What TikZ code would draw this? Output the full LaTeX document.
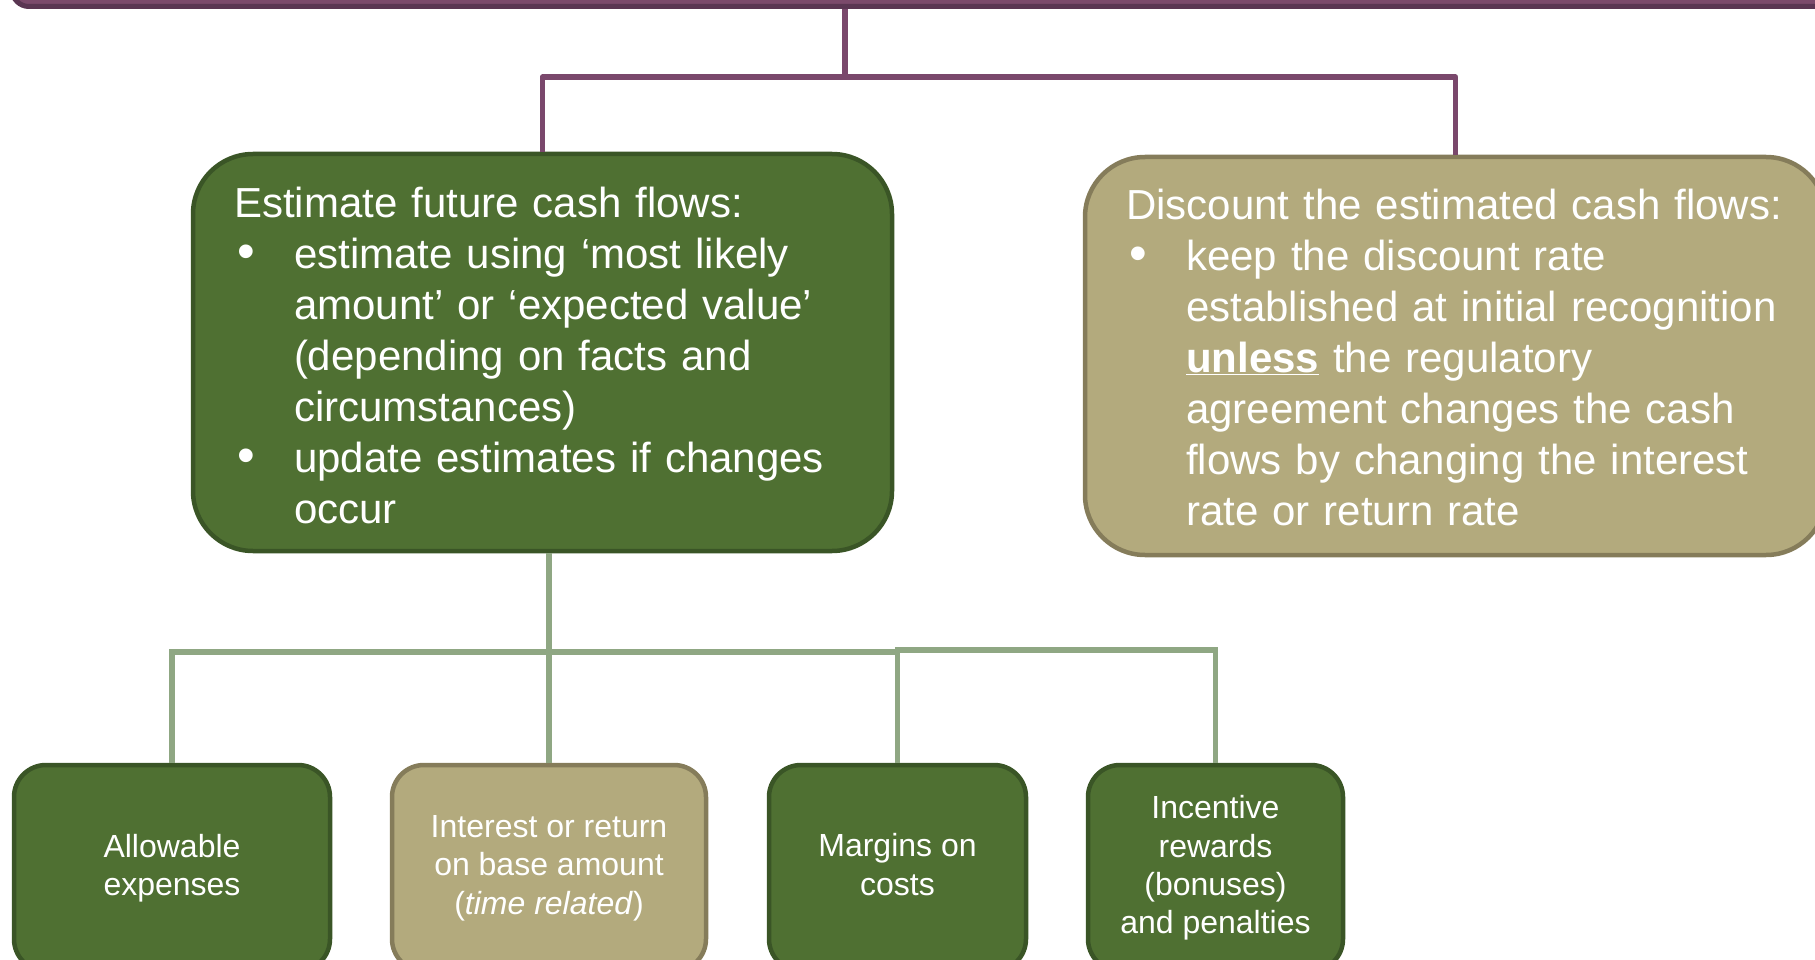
\documentclass[tikz,border=0pt]{standalone}
\usepackage{fontspec}
\setmainfont{Liberation Sans}
\definecolor{gfill}{HTML}{4F7032}
\definecolor{gdraw}{HTML}{3A5526}
\definecolor{tfill}{HTML}{B3AA7D}
\definecolor{tdraw}{HTML}{857C5A}
\definecolor{pfill}{HTML}{7B4A6B}
\definecolor{pdraw}{HTML}{5A3652}
\definecolor{pline}{HTML}{7A486C}
\definecolor{lgline}{HTML}{8FA783}
\tikzset{
  bigtext/.style={font=\fontsize{42}{51}\selectfont, text=white, align=left, inner xsep=41, inner ysep=0},
  smalltext/.style={font=\fontsize{32}{38.3}\selectfont, text=white, align=center, inner sep=0},
  greenbox/.style={draw=gdraw, fill=gfill, line width=4.5},
  tanbox/.style={draw=tdraw, fill=tfill, line width=4.5},
  purpconn/.style={draw=pline, line width=5.5, line join=round},
  greenconn/.style={draw=lgline, line width=5.5},
}
\newcommand{\bul}{\hspace*{3pt}\makebox[57pt][l]{\scalebox{1.2}{•}}}
\newcommand{\ind}{\hspace*{60pt}}
\newcommand{\tallstrut}{\rule{0pt}{36pt}}
\begin{document}
\begin{tikzpicture}[x=1pt, y=-1pt]
\useasboundingbox (0,0) rectangle (1815,960);
\clip (0,0) rectangle (1815,960);
% top bar
\node[draw=pdraw, fill=pfill, line width=5, rounded corners=17, minimum width=1828, minimum height=66.5, inner sep=0] (top) at (926,-26.75) {};
% main boxes
\node[greenbox, rounded corners=60, minimum width=699, minimum height=397, text width=617, bigtext] (est) at (542.5,352.5) {\tallstrut\mbox{Estimate future cash flows:}\\
\bul estimate using ‘most likely\\
\ind amount’ or ‘expected value’\\
\ind (depending on facts and\\
\ind circumstances)\\
\bul update estimates if changes\\
\ind occur};
\node[tanbox, rounded corners=60, minimum width=741, minimum height=398, text width=659, bigtext] (disc) at (1455.5,356) {\rule{0pt}{33pt}\mbox{Discount the estimated cash flows:}\\
\bul keep the discount rate\\
\ind \mbox{established at initial recognition}\\
\ind \underline{\textbf{unless}} the regulatory\\
\ind agreement changes the cash\\
\ind \mbox{flows by changing the interest}\\
\ind rate or return rate};
% bottom boxes
\node[greenbox, rounded corners=32, minimum width=316, minimum height=206, smalltext] (b1) at (172,868) {Allowable\\expenses};
\node[tanbox, rounded corners=32, minimum width=314, minimum height=206, smalltext] (b2) at (549,868) {Interest or return\\on base amount\\(\textit{time related})};
\node[greenbox, rounded corners=32, minimum width=257, minimum height=206, smalltext] (b3) at (897.5,868) {Margins on\\costs\rule[-7pt]{0pt}{0pt}};
\node[greenbox, rounded corners=32, minimum width=255, minimum height=206, smalltext] (b4) at (1215.5,868) {Incentive\\rewards\\(bonuses)\\and penalties};
% connectors
\coordinate (j1) at (845,77);
\draw[purpconn] (top.south -| j1) -- (j1);
\draw[purpconn] (est.north) |- (j1) -| (disc.north);
\coordinate (j2) at (549,652);
\coordinate (j3) at (1000,650);
\draw[greenconn] (est.south -| b2.north) -- (b2.north);
\draw[greenconn] (b1.north) |- (j2) -| (b3.north);
\draw[greenconn] (b3.north) |- (j3) -| (b4.north);
\end{tikzpicture}
\end{document}
